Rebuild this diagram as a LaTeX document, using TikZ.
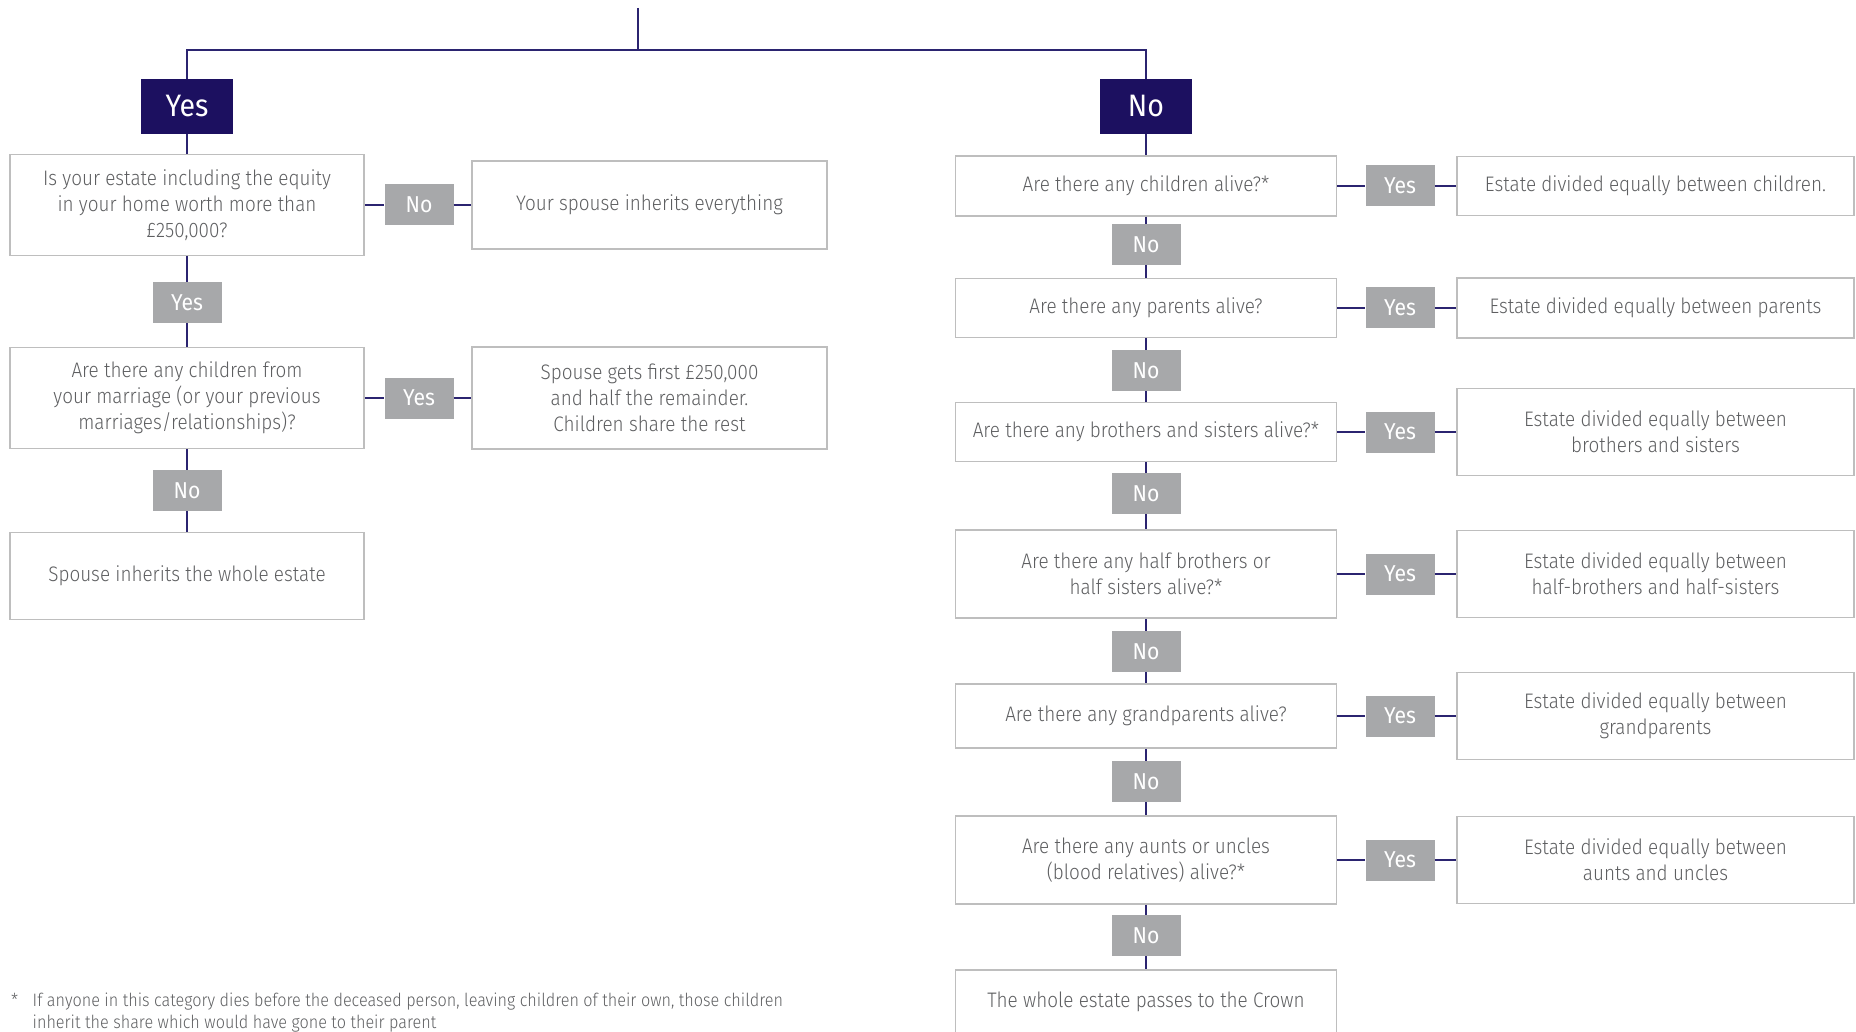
\documentclass[tikz,border=0pt]{standalone}
\usepackage{fontspec}
\setmainfont{Fira Sans}[UprightFont=* Light, FakeStretch=0.9]
\newfontfamily\tagfont{Fira Sans}[FakeStretch=0.92]

\definecolor{navy}{HTML}{1C1060}
\definecolor{linkblue}{HTML}{2B2470}
\definecolor{taggray}{HTML}{A7A8AA}
\definecolor{boxgray}{HTML}{BEBEBE}
\definecolor{txtgray}{HTML}{5E5F61}

\tikzset{
	link/.style = {draw=linkblue, line width=1.3pt},
	headbox/.style = {fill=navy, text=white, inner sep=0pt, minimum width=92pt, minimum height=55pt, font=\tagfont\fontsize{31}{31}\selectfont},
	yntag/.style = {fill=taggray, text=white, inner sep=0pt, minimum width=69pt, minimum height=41pt, font=\tagfont\fontsize{23}{23}\selectfont},
	qbox/.style = {draw=boxgray, line width=1.5pt, fill=white, text=txtgray, align=center, inner sep=0pt, font=\fontsize{21}{26}\selectfont},
}

\begin{document}
\begin{tikzpicture}[x = 1pt, y = -1pt]
	\useasboundingbox (0,0) rectangle (1856,1032);

	% top split
	\coordinate (root) at (638,8);
	\coordinate (split) at (638,50);
	\node[headbox] (headYes) at (187,106.5) {Yes};
	\node[headbox] (headNo) at (1146,106.5) {No};
	\draw[link] (root) -- (split);
	\draw[link] (split) -| (headYes);
	\draw[link] (split) -| (headNo);

	% married branch
	\node[qbox, minimum width=354pt, minimum height=101pt] (lq1) at (187,205) {Is your estate including the equity\\in your home worth more than\\£250,000?};
	\node[yntag] (ln1) at (419,205) {No};
	\node[qbox, minimum width=355pt, minimum height=88pt] (la1) at (649.5,205) {Your spouse inherits everything};
	\draw[link] (headYes) -- (lq1);
	\draw[link] (lq1) -- (ln1);
	\draw[link] (ln1) -- (la1);

	\node[yntag] (ly1) at (187,302.5) {Yes};
	\draw[link] (lq1) -- (ly1);

	\node[qbox, minimum width=354pt, minimum height=101pt] (lq2) at (187,398) {Are there any children from\\your marriage (or your previous\\marriages/relationships)?};
	\node[yntag] (ly2) at (419,398) {Yes};
	\node[qbox, minimum width=355pt, minimum height=102pt] (la2) at (649.5,398) {Spouse gets first £250,000\\and half the remainder.\\Children share the rest};
	\draw[link] (ly1) -- (lq2);
	\draw[link] (lq2) -- (ly2);
	\draw[link] (ly2) -- (la2);

	\node[yntag] (ln2) at (187,490.5) {No};
	\node[qbox, minimum width=354pt, minimum height=87pt] (la3) at (187,576) {Spouse inherits the whole estate};
	\draw[link] (lq2) -- (ln2);
	\draw[link] (ln2) -- (la3);

	% no spouse branch
	\begin{scope}
		\def\colx{1146}
		\def\tagx{1400}
		\def\ansx{1655.5}
		\foreach \i/\y/\qh/\ah/\q/\a in {
			1/186/60/59/{Are there any children alive?*}/{Estate divided equally between children.},
			2/308/59/60/{Are there any parents alive?}/{Estate divided equally between parents},
			3/432/59/87/{Are there any brothers and sisters alive?*}/{Estate divided equally between\\brothers and sisters},
			4/574/88/87/{Are there any half brothers or\\half sisters alive?*}/{Estate divided equally between\\half-brothers and half-sisters},
			5/716/64/87/{Are there any grandparents alive?}/{Estate divided equally between\\grandparents},
			6/860/88/87/{Are there any aunts or uncles\\(blood relatives) alive?*}/{Estate divided equally between\\aunts and uncles}} {
			\node[qbox, minimum width=381pt, minimum height=\qh pt] (rq\i) at (\colx,\y) {\q};
			\node[yntag] (ry\i) at (\tagx,\y) {Yes};
			\node[qbox, minimum width=397pt, minimum height=\ah pt] (ra\i) at (\ansx,\y) {\a};
			\draw[link] (rq\i) -- (ry\i);
			\draw[link] (ry\i) -- (ra\i);
		}
		\node[qbox, minimum width=381pt, minimum height=64pt] (rq7) at (\colx,1002) {The whole estate passes to the Crown};

		\foreach \i/\y in {1/244.5, 2/370.5, 3/493.5, 4/651.5, 5/781.5, 6/935.5} {
			\node[yntag] (rn\i) at (\colx,\y) {No};
		}
		\draw[link] (headNo) -- (rq1);
		\foreach \i [count=\j from 2] in {1,...,6} {
			\draw[link] (rq\i) -- (rn\i);
			\draw[link] (rn\i) -- (rq\j);
		}
	\end{scope}

	% footnote
	\node[anchor=base west, inner sep=0pt, text=txtgray, font=\fontsize{18}{21.5}\selectfont] (star) at (11,1006) {*};
	\node[anchor=north west, inner sep=0pt, align=left, text=txtgray, font=\fontsize{18}{21.5}\selectfont] (note) at (32.5,993) {If anyone in this category dies before the deceased person, leaving children of their own, those children\\inherit the share which would have gone to their parent};
\end{tikzpicture}
\end{document}
